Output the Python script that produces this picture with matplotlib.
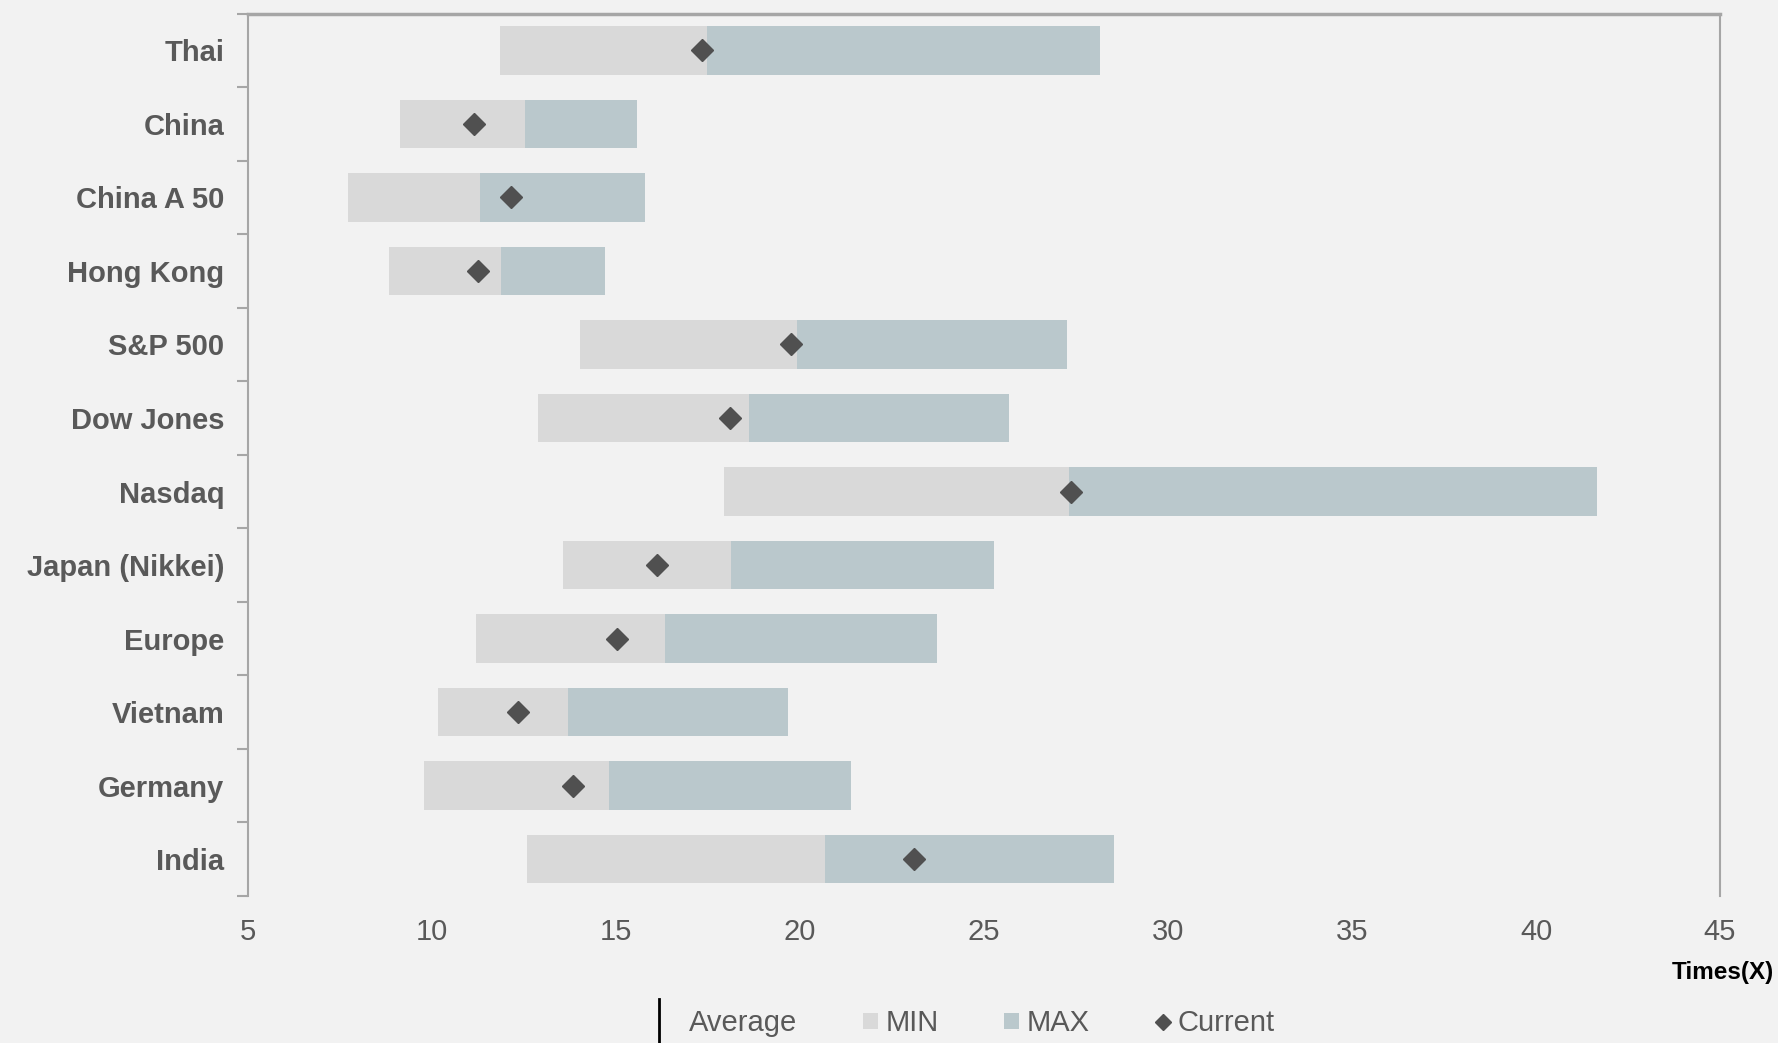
import matplotlib
matplotlib.use('Agg')
import matplotlib.pyplot as plt
from matplotlib.lines import Line2D
from matplotlib.patches import Patch
from matplotlib.legend_handler import HandlerBase
from matplotlib.ticker import FixedLocator
import numpy as np

markets = ['Thai', 'China', 'China A 50', 'Hong Kong', 'S&P 500', 'Dow Jones',
           'Nasdaq', 'Japan (Nikkei)', 'Europe', 'Vietnam', 'Germany', 'India']
pe_min = [11.84, 9.13, 7.71, 8.82, 14.03, 12.89, 17.94, 13.57, 11.19, 10.15, 9.78, 12.58]
pe_avg = [17.48, 12.52, 11.29, 11.87, 19.92, 18.62, 27.31, 18.13, 16.34, 13.69, 14.80, 20.69]
pe_max = [28.14, 15.57, 15.79, 14.71, 27.25, 25.68, 41.67, 25.28, 23.71, 19.67, 21.39, 28.54]
pe_now = [17.33, 11.13, 12.15, 11.26, 19.76, 18.10, 27.37, 16.12, 15.02, 12.33, 13.84, 23.09]

bg = '#F2F2F2'
c_min = '#D9D9D9'
c_max = '#BAC8CC'
c_dot = '#505050'
c_txt = '#595959'
c_axis = '#A6A6A6'

plt.rcParams['font.family'] = ['Liberation Sans Narrow', 'Liberation Sans', 'DejaVu Sans']


# legend entry for "Average": a tall vertical stroke set off to the left
class AvgHandler(HandlerBase):
    def create_artists(self, legend, orig_handle, xdescent, ydescent,
                       width, height, fontsize, trans):
        x = -xdescent - 0.6 * width
        line = Line2D([x, x], [-ydescent - 0.8 * height, -ydescent + 1.8 * height],
                      color='black', linewidth=2, transform=trans)
        return [line]


fig = plt.figure(figsize=(17.78, 10.43), dpi=100, facecolor=bg)
ax = fig.add_axes([0.1395, 0.141, 0.8279, 0.846], facecolor=bg)

y = np.arange(len(markets))
lo = np.array(pe_min)
mid = np.array(pe_avg)
hi = np.array(pe_max)
ax.barh(y, mid - lo, left=lo, height=0.66, color=c_min, zorder=2)
ax.barh(y, hi - mid, left=mid, height=0.66, color=c_max, zorder=2)
ax.plot(pe_now, y, linestyle='none', marker='D', markersize=11,
        color=c_dot, zorder=3)

ax.set_xlim(5, 45)
ax.set_ylim(len(markets) - 0.5, -0.5)
ax.set_xticks(range(5, 50, 5))
ax.set_yticks(y)
ax.set_yticklabels(markets, fontsize=21, fontweight='bold', color=c_txt)
ax.yaxis.set_minor_locator(FixedLocator(np.arange(-0.5, len(markets), 1)))
ax.tick_params(axis='y', which='major', length=0, pad=17)
ax.tick_params(axis='y', which='minor', length=8, width=1.5, color=c_axis)
ax.tick_params(axis='x', length=0, pad=16, labelsize=21, labelcolor=c_txt)

ax.spines['bottom'].set_visible(False)
for s in ['left', 'top', 'right']:
    ax.spines[s].set_color(c_axis)
    ax.spines[s].set_linewidth(1.5)
ax.spines['top'].set_linewidth(2.5)

fig.text(0.998, 0.068, 'Times(X)', ha='right', va='center',
         fontsize=17.5, fontweight='bold', color='black')

avg_handle = Line2D([], [], color='black', label='Average')
handles = [
    avg_handle,
    Patch(facecolor=c_min, label='MIN'),
    Patch(facecolor=c_max, label='MAX'),
    Line2D([], [], linestyle='none', marker='D', markersize=8, color=c_dot,
           label='Current'),
]
leg = fig.legend(handles=handles, loc='center', bbox_to_anchor=(0.546, 0.019),
                 ncol=4, frameon=False, fontsize=21, handlelength=0.5,
                 handleheight=0.5, handletextpad=0.25, columnspacing=2.26,
                 handler_map={avg_handle: AvgHandler()})
for t in leg.get_texts():
    t.set_color(c_txt)

fig.savefig('out.png', dpi=100, facecolor=bg)
